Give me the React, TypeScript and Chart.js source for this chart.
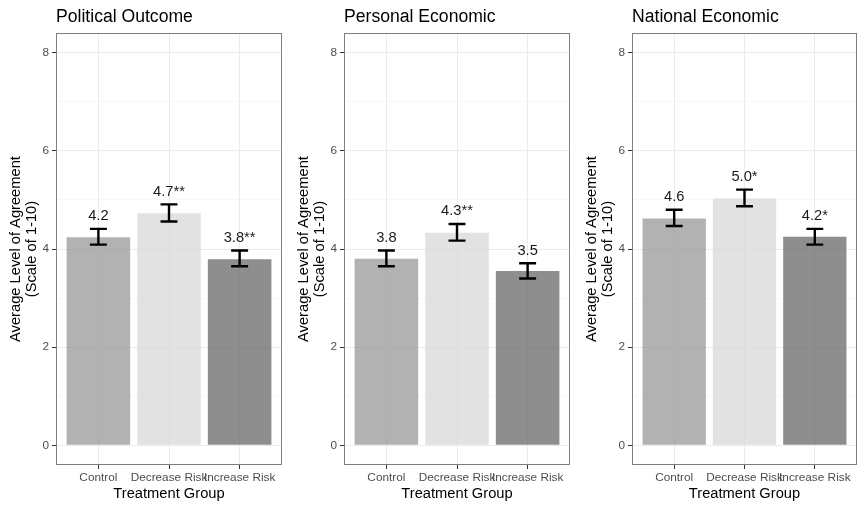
import React, { useEffect, useRef } from "react";
import { Chart, registerables } from "chart.js";

Chart.register(...registerables);

// ---------- data ----------
const categories = ["Control", "Decrease Risk", "Increase Risk"];
const panelTitles = ["Political Outcome", "Personal Economic", "National Economic"];

const politicalMeans = [4.24, 4.73, 3.79];
const politicalLower = [4.09, 4.56, 3.65];
const politicalUpper = [4.41, 4.91, 3.97];
const politicalLabels = ["4.2", "4.7**", "3.8**"];

const personalMeans = [3.8, 4.33, 3.55];
const personalLower = [3.65, 4.17, 3.4];
const personalUpper = [3.97, 4.51, 3.71];
const personalLabels = ["3.8", "4.3**", "3.5"];

const nationalMeans = [4.62, 5.03, 4.25];
const nationalLower = [4.47, 4.87, 4.09];
const nationalUpper = [4.8, 5.21, 4.41];
const nationalLabels = ["4.6", "5.0*", "4.2*"];

const yMajorTicks = [0, 2, 4, 6, 8];
const yMinorTicks = [1, 3, 5, 7];
const yAxisLabel = ["Average Level of Agreement", "(Scale of 1-10)"];
const xAxisLabel = "Treatment Group";

// ---------- styles ----------
const FONT = '"Liberation Sans", Arial, Helvetica, sans-serif';
const barColors = [
  "rgba(152,152,152,0.75)",
  "rgba(216,216,216,0.75)",
  "rgba(104,104,104,0.75)",
];

type PanelProps = {
  left: number;
  width: number;
  padRight: number;
  title: string;
  means: number[];
  lower: number[];
  upper: number[];
  labels: string[];
};

function Panel({ left, width, padRight, title, means, lower, upper, labels }: PanelProps) {
  const ref = useRef<HTMLCanvasElement | null>(null);

  useEffect(() => {
    if (!ref.current) return;
    const isMajor = (v: number) => yMajorTicks.includes(v);

    const overlay = {
      id: "overlay",
      afterDatasetsDraw(chart: any) {
        const { ctx, scales } = chart;
        const x = scales.x;
        const y = scales.y;
        ctx.save();
        ctx.strokeStyle = "#000000";
        ctx.lineWidth = 2.4;
        ctx.lineCap = "butt";
        means.forEach((_m, i) => {
          const cx = x.getPixelForValue(i + 1);
          const hw = x.getPixelForValue(i + 1 + 0.12) - cx;
          const yt = y.getPixelForValue(upper[i]);
          const yb = y.getPixelForValue(lower[i]);
          ctx.beginPath();
          ctx.moveTo(cx, yt);
          ctx.lineTo(cx, yb);
          ctx.moveTo(cx - hw, yt);
          ctx.lineTo(cx + hw, yt);
          ctx.moveTo(cx - hw, yb);
          ctx.lineTo(cx + hw, yb);
          ctx.stroke();
          ctx.fillStyle = "#1a1a1a";
          ctx.font = `14.7px ${FONT}`;
          ctx.textAlign = "center";
          ctx.textBaseline = "alphabetic";
          ctx.fillText(labels[i], cx, yt - 8.5);
        });
        ctx.restore();
      },
      afterDraw(chart: any) {
        const { ctx, chartArea } = chart;
        ctx.save();
        ctx.strokeStyle = "#7f7f7f";
        ctx.lineWidth = 1;
        ctx.strokeRect(
          chartArea.left + 0.5,
          chartArea.top + 0.5,
          chartArea.right - chartArea.left - 1,
          chartArea.bottom - chartArea.top - 1
        );
        ctx.fillStyle = "#000000";
        ctx.font = `17.6px ${FONT}`;
        ctx.textAlign = "left";
        ctx.textBaseline = "alphabetic";
        ctx.fillText(title, chartArea.left, 22);
        ctx.restore();
      },
    };

    const chart = new Chart(ref.current, {
      type: "bar",
      data: {
        datasets: [
          {
            data: means.map((m, i) => ({ x: i + 1, y: m })),
            backgroundColor: barColors,
            borderWidth: 0,
            barPercentage: 0.9,
            categoryPercentage: 1,
          },
        ],
      },
      options: {
        responsive: false,
        maintainAspectRatio: false,
        animation: false,
        events: [],
        layout: {
          padding: { left: 0, right: padRight, top: 33, bottom: 0 },
          autoPadding: false,
        },
        plugins: {
          legend: { display: false },
          tooltip: { enabled: false },
        },
        scales: {
          x: {
            type: "linear",
            min: 0.4,
            max: 3.6,
            offset: false,
            afterBuildTicks: (s: any) => {
              s.ticks = categories.map((_c, i) => ({ value: i + 1 }));
            },
            afterFit: (s: any) => {
              s.height = 43;
            },
            grid: {
              offset: false,
              color: "#ebebeb",
              lineWidth: 1,
              drawTicks: true,
              tickLength: 4,
              tickColor: "#333333",
            },
            border: { display: false },
            ticks: {
              autoSkip: false,
              maxRotation: 0,
              minRotation: 0,
              padding: 2,
              color: "#4d4d4d",
              font: { family: FONT, size: 11.8 },
              callback: (v: any) => categories[Math.round(Number(v)) - 1] ?? "",
            },
            title: {
              display: true,
              text: xAxisLabel,
              color: "#000000",
              font: { family: FONT, size: 14.7 },
              padding: { top: 0, bottom: 5 },
            },
          },
          y: {
            type: "linear",
            min: -0.4,
            max: 8.4,
            afterBuildTicks: (s: any) => {
              s.ticks = [...yMajorTicks, ...yMinorTicks]
                .sort((a, b) => a - b)
                .map((v) => ({ value: v }));
            },
            afterFit: (s: any) => {
              s.width = 56;
            },
            grid: {
              color: (c: any) => (c.tick && isMajor(c.tick.value) ? "#ebebeb" : "#f3f3f3"),
              lineWidth: (c: any) => (c.tick && isMajor(c.tick.value) ? 1 : 0.6),
              drawTicks: true,
              tickLength: 4,
              tickColor: (c: any) => (c.tick && isMajor(c.tick.value) ? "#333333" : "rgba(0,0,0,0)"),
            },
            border: { display: false },
            ticks: {
              autoSkip: false,
              padding: 3,
              color: "#4d4d4d",
              font: { family: FONT, size: 11.8 },
              callback: (v: any) => (isMajor(Number(v)) ? String(v) : ""),
            },
            title: {
              display: true,
              text: yAxisLabel,
              color: "#000000",
              font: { family: FONT, size: 14.7, lineHeight: 1.07 },
              padding: { top: 8, bottom: 0 },
            },
          },
        },
      } as any,
      plugins: [overlay],
    } as any);

    return () => chart.destroy();
  }, []);

  return (
    <div style={{ position: "absolute", left, top: 0, width, height: 508 }}>
      <canvas ref={ref} width={width} height={508} style={{ width, height: 508, display: "block" }} />
    </div>
  );
}

export default function App() {
  return (
    <div
      style={{
        position: "fixed",
        left: 0,
        top: 0,
        width: 857,
        height: 508,
        background: "#ffffff",
        overflow: "hidden",
      }}
    >
      <Panel
        left={0}
        width={286}
        padRight={4}
        title={panelTitles[0]}
        means={politicalMeans}
        lower={politicalLower}
        upper={politicalUpper}
        labels={politicalLabels}
      />
      <Panel
        left={288}
        width={286}
        padRight={4}
        title={panelTitles[1]}
        means={personalMeans}
        lower={personalLower}
        upper={personalUpper}
        labels={personalLabels}
      />
      <Panel
        left={576}
        width={281}
        padRight={0}
        title={panelTitles[2]}
        means={nationalMeans}
        lower={nationalLower}
        upper={nationalUpper}
        labels={nationalLabels}
      />
    </div>
  );
}
